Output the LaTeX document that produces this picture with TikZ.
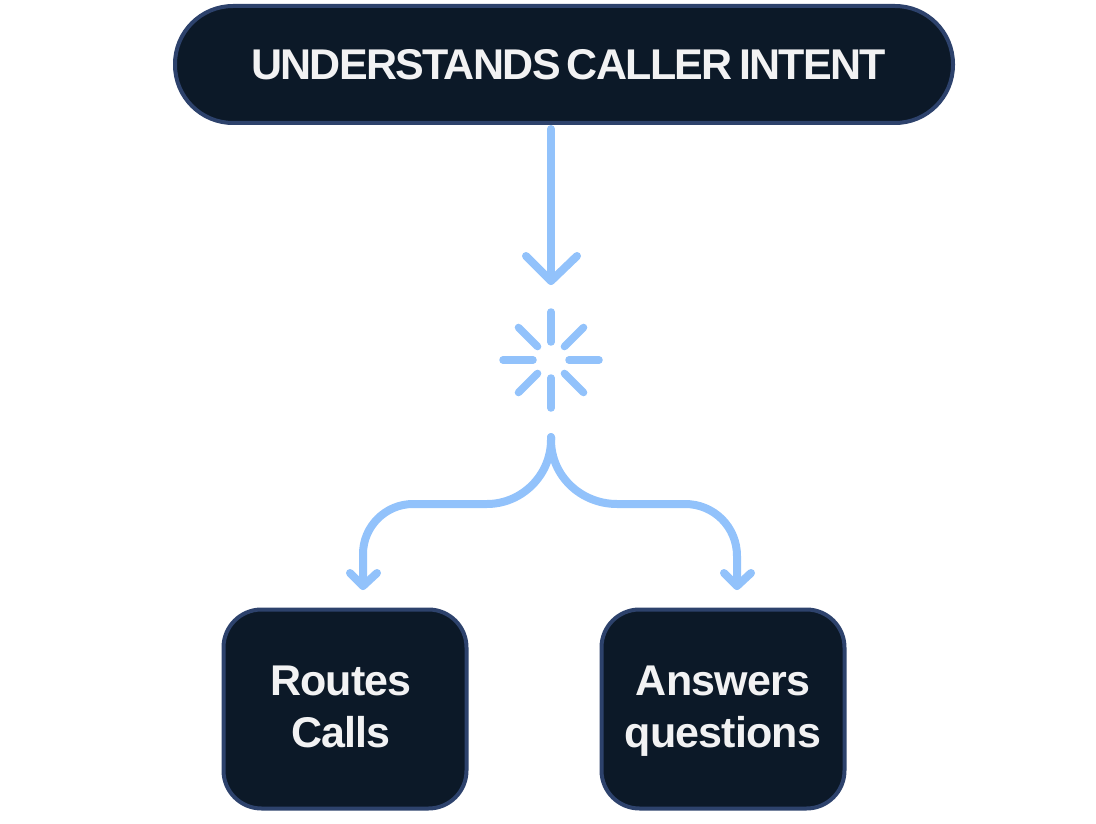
\documentclass[tikz,border=0pt]{standalone}
\usepackage{fontspec}
\setmainfont{Liberation Sans}
\newfontfamily\headfont[LetterSpace=-3.9,WordSpace=0.6]{Liberation Sans}
\newfontfamily\leaffont[LetterSpace=-2]{Liberation Sans}
\usetikzlibrary{arrows.meta,positioning,calc}
\definecolor{mynavy}{RGB}{12,25,40}
\definecolor{myedge}{RGB}{45,66,108}
\definecolor{myblue}{RGB}{146,194,251}
\definecolor{mytext}{RGB}{242,242,243}

\begin{document}
\begin{tikzpicture}[x=1pt,y=-1pt,
    headbox/.style={rectangle, rounded corners=58pt, draw=myedge, line width=4pt, fill=mynavy,
                minimum width=778pt, minimum height=117pt, text=mytext, font=\headfont\bfseries\fontsize{43}{50}\selectfont},
    leafbox/.style={rectangle, rounded corners=38pt, draw=myedge, line width=4pt, fill=mynavy,
                minimum width=243pt, minimum height=199pt, text=mytext, align=center, font=\leaffont\bfseries\fontsize{43}{52}\selectfont},
    arr/.style={myblue, line width=8pt, line cap=round, line join=round},
    spark/.style={myblue, line width=7.5pt, line cap=round}]
\useasboundingbox (0,0) rectangle (1096,824);
\node[headbox] (intent) at (564,64.5) {\hspace*{9pt}UNDERSTANDS CALLER INTENT};
\node[leafbox] (routes) at (345,709) {\hspace*{-8pt}\rule{0pt}{34pt}Routes\\\hspace*{-8pt}Calls\vphantom{q}};
\node[leafbox] (answers) at (723,709) {\rule{0pt}{34pt}Answers\\questions};
\coordinate (hub) at (551,360);
\coordinate (arrowend) at (551,281);
\coordinate (splitpt) at (551,437);
\coordinate (lefttip) at (363,586);
\coordinate (righttip) at (737,586);
% top arrow
\draw[arr, shorten <=4pt] (intent.south -| hub) -- (arrowend);
\draw[arr] (526,256) -- (arrowend) -- (577,256);
% spark in the middle
\foreach \ang in {0,90,180,270} {
    \draw[spark] ($(hub)+(\ang:18)$) -- ($(hub)+(\ang:48)$);
}
\foreach \ang in {45,135,225,315} {
    \draw[spark] ($(hub)+(\ang:19)$) -- ($(hub)+(\ang:46)$);
}
% split
\draw[arr] (splitpt) -- (551,440) .. controls (551,475) and (522,504) .. (487,504) -- (413,504)
    .. controls (385.5,504) and (363,526.5) .. (363,554) -- (lefttip);
\draw[arr] (splitpt) -- (551,440) .. controls (551,476) and (581,504) .. (617,504) -- (685,504)
    .. controls (714,504) and (737,527) .. (737,556) -- (righttip);
\draw[arr] (350,573) -- (lefttip) -- (377,573);
\draw[arr] (724,573) -- (righttip) -- (751,573);
\end{tikzpicture}
\end{document}
